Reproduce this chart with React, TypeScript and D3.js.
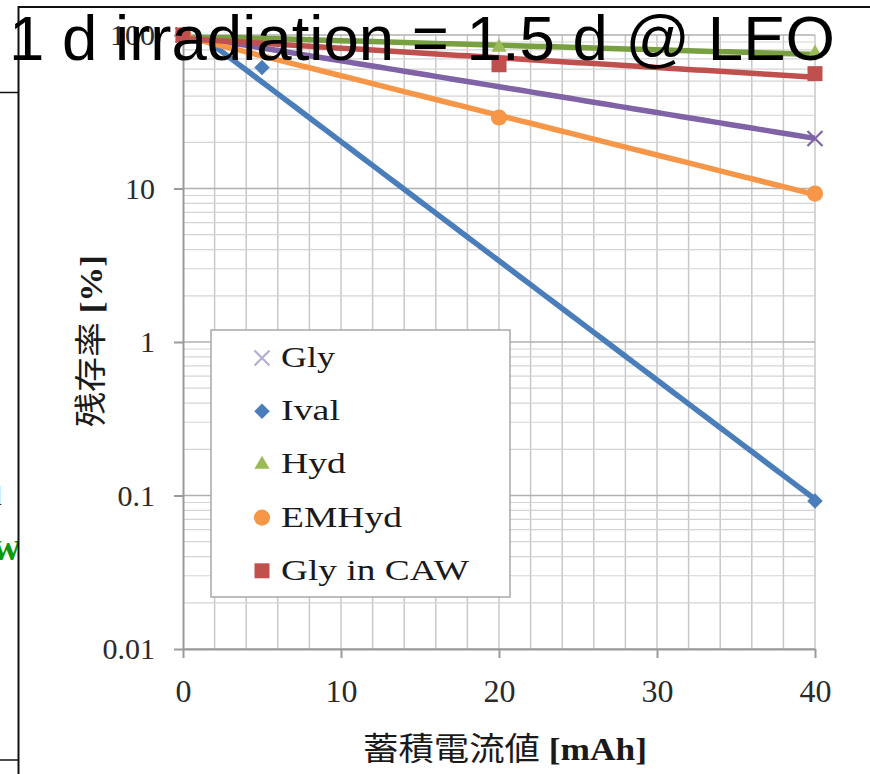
import React, { useEffect, useRef } from 'react';
import * as d3 from 'd3';

// series values (x = mAh, y = %)
const seriesNames = ['Gly', 'Ival', 'Hyd', 'EMHyd', 'Gly in CAW'];
const glyX = [0, 40];
const glyY = [100, 21.2];
const ivalX = [0, 5, 40];
const ivalY = [100, 61.4, 0.092];
const hydX = [0, 20, 40];
const hydY = [100, 83, 76];
const emhydX = [0, 20, 40];
const emhydY = [100, 29, 9.27];
const cawX = [0, 20, 40];
const cawY = [100, 64, 56];

const xTicks = [0, 10, 20, 30, 40];
const yTicks = [0.01, 0.1, 1, 10, 100];
const yTickLabels = ['0.01', '0.1', '1', '10', '100'];

const serif = "'Liberation Serif', 'Times New Roman', serif";
const cjk = "'Noto Sans CJK JP', 'Noto Sans CJK SC', sans-serif";

// exponential trendline: least squares on log10(y)
function expFit(xs: number[], ys: number[]) {
  const ly = ys.map(v => Math.log10(v));
  const mx = d3.mean(xs) as number;
  const my = d3.mean(ly) as number;
  let sxy = 0, sxx = 0;
  xs.forEach((xv, i) => { sxy += (xv - mx) * (ly[i] - my); sxx += (xv - mx) ** 2; });
  const b = sxy / sxx;
  const a = my - b * mx;
  return (xv: number) => Math.pow(10, a + b * xv);
}

export default function App() {
  const ref = useRef<SVGSVGElement>(null);

  useEffect(() => {
    const svg = d3.select(ref.current);
    svg.selectAll('*').remove();

    const left = 183, right = 815, top = 35, bottom = 649;
    const x = d3.scaleLinear().domain([0, 40]).range([left, right]);
    const y = d3.scaleLog().domain([0.01, 100]).range([bottom, top]);

    svg.append('rect').attr('width', 870).attr('height', 774).attr('fill', '#fff');

    const defs = svg.append('defs');
    defs.append('clipPath').attr('id', 'leftClip')
      .append('rect').attr('x', 0).attr('y', 0).attr('width', 18).attr('height', 774);
    defs.append('clipPath').attr('id', 'plotClip')
      .append('rect').attr('x', left).attr('y', top).attr('width', right - left).attr('height', bottom - top);

    // fragments of the slide behind, left of the frame
    const frag = svg.append('g').attr('clip-path', 'url(#leftClip)');
    frag.append('text').attr('x', -6).attr('y', 505)
      .style('font-family', serif).style('font-size', '28px').style('font-weight', 'bold')
      .attr('fill', '#333').text('l');
    frag.append('text').attr('x', 21).attr('y', 560).attr('text-anchor', 'end')
      .style('font-family', serif).style('font-size', '40px').style('font-weight', 'bold')
      .attr('fill', '#0a9a0a').text('w');

    // grid
    const grid = svg.append('g');
    d3.range(2, 41, 2).forEach(v => {
      grid.append('line').attr('x1', x(v)).attr('x2', x(v)).attr('y1', top).attr('y2', bottom)
        .attr('stroke', '#c8c8c8').attr('stroke-width', 1.5);
    });
    [0.01, 0.1, 1, 10].forEach(dec => {
      d3.range(2, 10).forEach(m => {
        grid.append('line').attr('x1', left).attr('x2', right).attr('y1', y(m * dec)).attr('y2', y(m * dec))
          .attr('stroke', '#d4d4d4').attr('stroke-width', 1.2);
      });
    });
    yTicks.forEach(v => {
      grid.append('line').attr('x1', left).attr('x2', right).attr('y1', y(v)).attr('y2', y(v))
        .attr('stroke', '#b0b0b0').attr('stroke-width', 1.6);
    });

    // axes
    const yAxis = svg.append('g').attr('transform', `translate(${left},0)`)
      .call(d3.axisLeft(y).tickValues(yTicks).tickFormat((d, i) => yTickLabels[i]).tickSize(9).tickSizeOuter(0).tickPadding(19));
    const xAxis = svg.append('g').attr('transform', `translate(0,${bottom})`)
      .call(d3.axisBottom(x).tickValues(xTicks).tickSize(9).tickSizeOuter(0).tickPadding(21));
    [yAxis, xAxis].forEach(ax => {
      ax.select('.domain').attr('stroke', '#9a9a9a').attr('stroke-width', 2);
      ax.selectAll('.tick line').attr('stroke', '#9a9a9a').attr('stroke-width', 2);
      ax.selectAll('.tick text').attr('fill', '#2a2a2a').style('font-family', serif);
    });
    yAxis.selectAll('.tick text').style('font-size', '30px');
    xAxis.selectAll('.tick text').style('font-size', '32px');

    // axis titles
    const yt = svg.append('text').attr('transform', 'translate(102,341) rotate(-90)')
      .attr('text-anchor', 'middle').attr('fill', '#1a1a1a').style('font-size', '32px')
      .attr('textLength', 172).attr('lengthAdjust', 'spacingAndGlyphs');
    yt.append('tspan').style('font-family', cjk).text('残存率');
    yt.append('tspan').style('font-family', serif).style('font-weight', 'bold').text(' [%]');

    const xt = svg.append('text').attr('x', 505).attr('y', 760)
      .attr('text-anchor', 'middle').attr('fill', '#1a1a1a').style('font-size', '32px')
      .attr('textLength', 284).attr('lengthAdjust', 'spacingAndGlyphs');
    xt.append('tspan').style('font-family', cjk).text('蓄積電流値');
    xt.append('tspan').style('font-family', serif).style('font-weight', 'bold').text(' [mAh]');

    // series
    const series = [
      { xs: glyX, ys: glyY, line: '#7f63a6', mark: '#7f63a6', legendMark: '#b4aed4', shape: 'x' },
      { xs: ivalX, ys: ivalY, line: '#4a7ebb', mark: '#4a7ebb', legendMark: '#4a7ebb', shape: 'diamond' },
      { xs: hydX, ys: hydY, line: '#78a040', mark: '#9bbb59', legendMark: '#9bbb59', shape: 'triangle' },
      { xs: emhydX, ys: emhydY, line: '#f79646', mark: '#f79646', legendMark: '#f79646', shape: 'circle' },
      { xs: cawX, ys: cawY, line: '#c0504d', mark: '#c0504d', legendMark: '#c0504d', shape: 'square' },
    ];

    const drawMark = (g: any, shape: string, cx: number, cy: number, color: string) => {
      if (shape === 'x') {
        g.append('path').attr('d', `M${cx - 7.5},${cy - 7.5}L${cx + 7.5},${cy + 7.5}M${cx - 7.5},${cy + 7.5}L${cx + 7.5},${cy - 7.5}`)
          .attr('stroke', color).attr('stroke-width', 2.2).attr('fill', 'none');
        return;
      }
      const type = shape === 'diamond' || shape === 'square' ? d3.symbolSquare
        : shape === 'triangle' ? d3.symbolTriangle : d3.symbolCircle;
      const size = shape === 'diamond' ? 120 : shape === 'square' ? 225 : shape === 'triangle' ? 100 : 205;
      g.append('path').attr('d', d3.symbol().type(type).size(size)())
        .attr('transform', `translate(${cx},${cy})${shape === 'diamond' ? ' rotate(45)' : ''}`)
        .attr('fill', color);
    };

    const plot = svg.append('g').attr('clip-path', 'url(#plotClip)');
    series.forEach(s => {
      const f = expFit(s.xs, s.ys);
      const pts = d3.range(0, 40.01, 0.5);
      plot.append('path')
        .attr('d', d3.line<number>().x(v => x(v)).y(v => y(f(v)))(pts))
        .attr('fill', 'none').attr('stroke', s.line).attr('stroke-width', 5.5).attr('stroke-linecap', 'round');
    });
    const marks = svg.append('g');
    series.forEach(s => {
      s.xs.forEach((xv, i) => drawMark(marks, s.shape, x(xv), y(s.ys[i]), s.mark));
    });

    // legend
    const lg = svg.append('g');
    lg.append('rect').attr('x', 211).attr('y', 330).attr('width', 299).attr('height', 267)
      .attr('fill', '#fff').attr('stroke', '#a8a8a8').attr('stroke-width', 1.5);
    const legendWidths = [54, 59, 65, 121, 188];
    series.forEach((s, i) => {
      const base = 367 + i * 53.2;
      drawMark(lg, s.shape, 262, base - 9, s.legendMark);
      lg.append('text').attr('x', 281).attr('y', base)
        .style('font-family', serif).style('font-size', '29px').attr('fill', '#1a1a1a')
        .attr('textLength', legendWidths[i]).attr('lengthAdjust', 'spacingAndGlyphs')
        .text(seriesNames[i]);
    });

    // frame of the slide
    const frame = svg.append('g').attr('stroke', '#111').attr('fill', 'none');
    frame.append('line').attr('x1', 18).attr('x2', 870).attr('y1', 7).attr('y2', 7).attr('stroke-width', 2);
    frame.append('line').attr('x1', 18.5).attr('x2', 18.5).attr('y1', 6).attr('y2', 774).attr('stroke-width', 2);
    frame.append('line').attr('x1', 0).attr('x2', 18).attr('y1', 92.5).attr('y2', 92.5).attr('stroke-width', 1.5);
    frame.append('line').attr('x1', 0).attr('x2', 18).attr('y1', 760).attr('y2', 760).attr('stroke-width', 1.5);

    // overlaid title
    svg.append('text').attr('x', 9).attr('y', 60)
      .style('font-family', "'Liberation Sans', Arial, sans-serif").style('font-size', '63.5px')
      .attr('fill', '#000').attr('textLength', 826).attr('lengthAdjust', 'spacingAndGlyphs')
      .text('1 d irradiation = 1.5 d @ LEO');
  }, []);

  return <svg ref={ref} width={870} height={774} style={{ position: 'absolute', left: 0, top: 0, display: 'block' }} />;
}
